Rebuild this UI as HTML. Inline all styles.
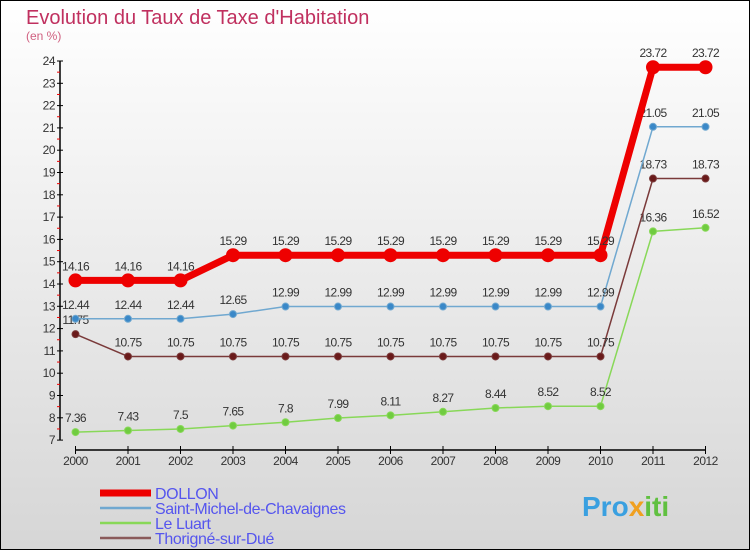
<!DOCTYPE html>
<html><head><meta charset="utf-8"><style>
body{margin:0}
svg{display:block;font-family:"Liberation Sans",sans-serif}
</style></head><body>
<svg id="chart" width="750" height="550">
<defs><linearGradient id="bg" x1="0" y1="0" x2="0" y2="1"><stop offset="0" stop-color="#ffffff"/><stop offset="1" stop-color="#d6d6d6"/></linearGradient></defs>
<rect x="0.5" y="0.5" width="749" height="549" fill="url(#bg)" stroke="#000"/>
<text x="26" y="24" font-size="20" fill="#c0305f">Evolution du Taux de Taxe d'Habitation</text>
<text x="26" y="40" font-size="12" fill="#d06080">(en %)</text>
<g id="axes"></g>
<g id="series"></g>
<g id="legend"></g>
<text x="582" y="516" font-size="28" font-weight="bold" fill="#3aa0e0">Pro<tspan fill="#f0a020">x</tspan><tspan fill="#60c040">iti</tspan></text>
</svg>
<script>
const years=[2000,2001,2002,2003,2004,2005,2006,2007,2008,2009,2010,2011,2012];
const dollon=[14.16,14.16,14.16,15.29,15.29,15.29,15.29,15.29,15.29,15.29,15.29,23.72,23.72];
const stMichel=[12.44,12.44,12.44,12.65,12.99,12.99,12.99,12.99,12.99,12.99,12.99,21.05,21.05];
const leLuart=[7.36,7.43,7.5,7.65,7.8,7.99,8.11,8.27,8.44,8.52,8.52,16.36,16.52];
const thorigne=[11.75,10.75,10.75,10.75,10.75,10.75,10.75,10.75,10.75,10.75,10.75,18.73,18.73];
const yTicks=[7,8,9,10,11,12,13,14,15,16,17,18,19,20,21,22,23,24];
const seriesNames=["DOLLON","Saint-Michel-de-Chavaignes","Le Luart","Thorigné-sur-Dué"];
const NS="http://www.w3.org/2000/svg";
const xS=i=>75.5+i*52.5;
const yS=v=>61+(24-v)*22.3;
function mk(tag,attrs,parent,text){const e=document.createElementNS(NS,tag);for(const k in attrs)e.setAttribute(k,attrs[k]);if(text!==undefined)e.textContent=text;parent.appendChild(e);return e;}
const ax=document.getElementById('axes');
let e=mk('line',{x1:60,y1:yS(24),x2:60,y2:yS(7),stroke:'#000','stroke-width':1.5},ax);


e=mk('line',{x1:xS(0),y1:450,x2:xS(12),y2:450,stroke:'#000','stroke-width':1.5},ax);


yTicks.forEach(v=>{
 mk('line',{x1:57,y1:yS(v),x2:63,y2:yS(v),stroke:'#000'},ax);
 if(v<24)mk('line',{x1:57,y1:yS(v+0.5),x2:60,y2:yS(v+0.5),stroke:'#e00'},ax);
 const t=mk('text',{x:55,y:yS(v)+4,'font-size':12,'text-anchor':'end',fill:'#333','letter-spacing':'-0.5'},ax,String(v));
 
 
});
years.forEach((y,i)=>{
 mk('line',{x1:xS(i),y1:446,x2:xS(i),y2:454,stroke:'#000'},ax);
 const t=mk('text',{x:xS(i),y:465,'font-size':12,'text-anchor':'middle',fill:'#333','letter-spacing':'-0.5'},ax,String(y));
 
 
});
const sg=document.getElementById('series');
function draw(vals,color,w,r,dot,name){
 const g=mk('g',{},sg);
 
 
 mk('polyline',{points:vals.map((v,i)=>xS(i)+','+yS(v)).join(' '),fill:'none',stroke:color,'stroke-width':w,'stroke-linejoin':'round'},g);
 vals.forEach((v,i)=>{
  const c=mk('circle',{cx:xS(i),cy:yS(v),r:r,fill:dot,stroke:color,'stroke-width':1},g);
  
  
  const t=mk('text',{x:xS(i),y:yS(v)-10,'font-size':12,'text-anchor':'middle',fill:'#333','letter-spacing':'-0.6'},g,String(v));
  
  
 });
}
draw(leLuart,'#88d858',1.5,3.5,'#70cc40','series-le-luart');
draw(thorigne,'#7a3a3a',1.5,3.5,'#6a1a1a','series-thorigne');
draw(stMichel,'#70a8d0',1.5,3.5,'#3a88c8','series-saint-michel');
draw(dollon,'#ee0000',7,6.5,'#ee0000','series-dollon');
const lg=document.getElementById('legend');
const lc=['#ee0000','#70a8d0','#88d858','#8a5a5a'],lw=[7,2.5,2.5,2.5];
seriesNames.forEach((n,i)=>{
 const y=493+i*15;
 const g=mk('g',{},lg);
 
 
 mk('line',{x1:100,y1:y,x2:151,y2:y,stroke:lc[i],'stroke-width':lw[i]},g);
 mk('text',{x:155,y:y+6,'font-size':16,fill:'#5555ee','letter-spacing':'-0.4'},g,n);
});
</script>
</body></html>
